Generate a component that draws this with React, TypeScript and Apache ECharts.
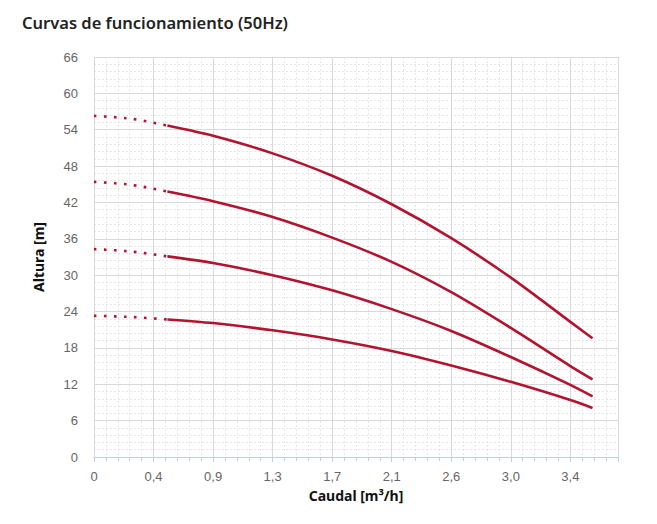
import * as echarts from 'echarts';
import { useEffect, useRef } from 'react';

// caudal [m3/h] sampled along the measured (solid) part of each curve
const flowSolid = [0.53, 0.86, 1.29, 1.72, 2.15, 2.58, 3.01, 3.44, 3.6];
// caudal for the extrapolated (dotted) start of each curve
const flowDotted = [0, 0.27, 0.53];

// altura [m] for the four curves, top to bottom
const headA = [54.7, 53.0, 50.1, 46.4, 41.7, 36.1, 29.6, 22.3, 19.6];
const headB = [43.8, 42.2, 39.6, 36.2, 32.2, 27.2, 21.3, 15.0, 12.8];
const headC = [33.1, 32.0, 30.0, 27.5, 24.4, 20.8, 16.5, 11.9, 10.0];
const headD = [22.7, 22.1, 20.9, 19.4, 17.5, 15.1, 12.4, 9.4, 8.1];

const headDotA = [56.3, 55.8, 54.7];
const headDotB = [45.4, 44.9, 43.8];
const headDotC = [34.3, 33.9, 33.1];
const headDotD = [23.3, 23.1, 22.7];

const xTickLabels = ['0', '0,4', '0,9', '1,3', '1,7', '2,1', '2,6', '3,0', '3,4'];
const xInterval = 0.43;
const xMax = 3.784;

const RED = '#b3132f';

const pair = (xs: number[], ys: number[]) => xs.map((x, i) => [x, ys[i]]);

const App = () => {
    const divRef = useRef<HTMLDivElement>(null);

    useEffect(() => {
        const chart = echarts.init(divRef.current!, null, { renderer: 'svg' });

        const solid = (ys: number[]) => ({
            type: 'line',
            data: pair(flowSolid, ys),
            smooth: 0.3,
            showSymbol: false,
            lineStyle: { color: RED, width: 2.6 },
            z: 3
        });
        const dotted = (ys: number[]) => ({
            type: 'line',
            data: pair(flowDotted, ys),
            smooth: 0.3,
            showSymbol: false,
            lineStyle: { color: RED, width: 2.6, type: [2.6, 7.4], cap: 'butt' },
            z: 3
        });

        chart.setOption({
            animation: false,
            title: {
                text: 'Curvas de funcionamiento (50Hz)',
                left: 17,
                top: 9,
                textStyle: { fontFamily: 'Noto Sans', fontSize: 16.5, fontWeight: 600, color: '#222' }
            },
            grid: { left: 94, right: 39, top: 57, bottom: 67 },
            xAxis: [
                {
                    type: 'value',
                    position: 'bottom',
                    min: 0,
                    max: xMax,
                    interval: xInterval,
                    name: 'Caudal [m³/h]',
                    nameLocation: 'middle',
                    nameGap: 31,
                    nameTextStyle: { fontFamily: 'Noto Sans', fontSize: 14, fontWeight: 'bold', color: '#111' },
                    axisLine: { lineStyle: { color: '#C0D0E0', width: 1 } },
                    axisTick: { length: 5, lineStyle: { color: '#C0D0E0' } },
                    axisLabel: {
                        margin: 13,
                        color: '#666',
                        fontFamily: 'Liberation Sans',
                        fontSize: 13,
                        showMaxLabel: true,
                        formatter: (v: number) => {
                            const i = Math.round(v / xInterval);
                            return Math.abs(v - i * xInterval) < 1e-6 && i < xTickLabels.length ? xTickLabels[i] : '';
                        }
                    },
                    splitLine: { lineStyle: { color: '#d9d9d9', width: 1 } },
                    z: 2
                },
                {
                    type: 'value',
                    position: 'bottom',
                    min: 0,
                    max: xMax,
                    interval: xInterval / 5,
                    axisLine: { show: false },
                    axisTick: { length: 4, lineStyle: { color: '#C0D0E0' } },
                    axisLabel: { show: false },
                    splitLine: { lineStyle: { color: '#e6e6e6', width: 1, type: [2, 2] } },
                    z: 1
                }
            ],
            yAxis: {
                type: 'value',
                min: 0,
                max: 66,
                interval: 6,
                name: 'Altura [m]',
                nameLocation: 'middle',
                nameGap: 49,
                nameRotate: 90,
                nameTextStyle: { fontFamily: 'Noto Sans', fontSize: 14, fontWeight: 'bold', color: '#111' },
                axisLine: { show: false },
                axisTick: { show: false },
                axisLabel: { margin: 16, color: '#666', fontFamily: 'Liberation Sans', fontSize: 13 },
                splitLine: { lineStyle: { color: '#d9d9d9', width: 1 } },
                minorTick: { show: false, splitNumber: 5 },
                minorSplitLine: { show: true, lineStyle: { color: '#e6e6e6', width: 1, type: [2, 2] } }
            },
            series: [
                dotted(headDotA), solid(headA),
                dotted(headDotB), solid(headB),
                dotted(headDotC), solid(headC),
                dotted(headDotD), solid(headD)
            ]
        });

        return () => {
            chart.dispose();
        };
    }, []);

    return (
        <div
            ref={divRef}
            style={{ position: 'fixed', left: 0, top: 0, width: '657px', height: '524px', background: '#fff' }}
        ></div>
    );
};

export default App;
